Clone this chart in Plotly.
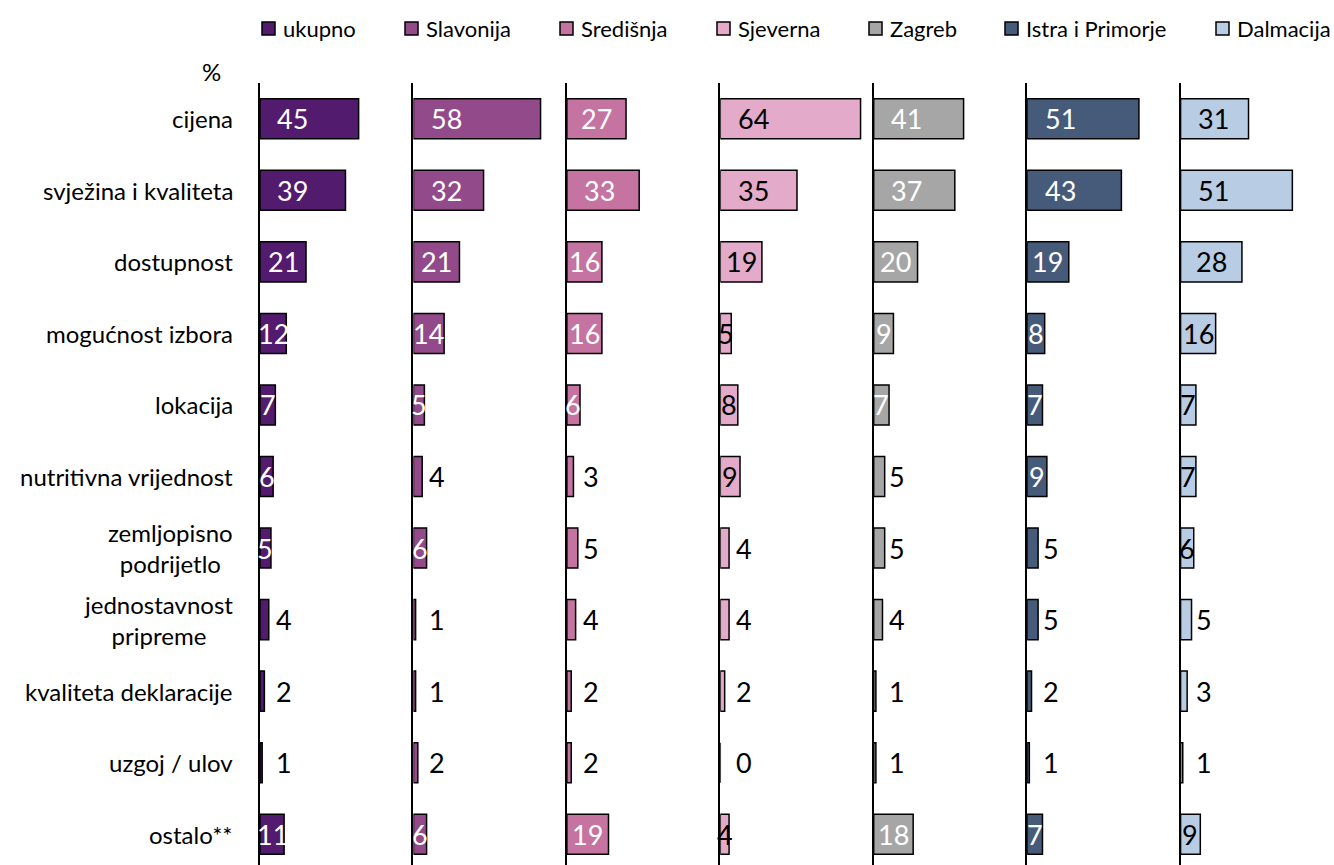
import plotly.graph_objects as go

# ---- data -------------------------------------------------------------
categories = [
    "cijena",
    "svježina i kvaliteta",
    "dostupnost",
    "mogućnost izbora",
    "lokacija",
    "nutritivna vrijednost",
    "zemljopisno<br>podrijetlo",
    "jednostavnost<br>pripreme",
    "kvaliteta deklaracije",
    "uzgoj / ulov",
    "ostalo**",
]

series_names = ["ukupno", "Slavonija", "Središnja", "Sjeverna", "Zagreb",
                "Istra i Primorje", "Dalmacija"]

ukupno = [45, 39, 21, 12, 7, 6, 5, 4, 2, 1, 11]
slavonija = [58, 32, 21, 14, 5, 4, 6, 1, 1, 2, 6]
sredisnja = [27, 33, 16, 16, 6, 3, 5, 4, 2, 2, 19]
sjeverna = [64, 35, 19, 5, 8, 9, 4, 4, 2, 0, 4]
zagreb = [41, 37, 20, 9, 7, 5, 5, 4, 1, 1, 18]
istra = [51, 43, 19, 8, 7, 9, 5, 5, 2, 1, 7]
dalmacija = [31, 51, 28, 16, 7, 7, 6, 5, 3, 1, 9]

series_values = [ukupno, slavonija, sredisnja, sjeverna, zagreb, istra, dalmacija]

# ---- styling ----------------------------------------------------------
colors = ["#521B6E", "#924A8B", "#C573A0", "#E4AACA", "#A6A6A6", "#465B7A", "#B8CCE4"]
inside_font_colors = ["white", "white", "white", "black", "white", "white", "black"]
FONT = "Lato, Carlito, Calibri, sans-serif"

# small bars whose label still sits inside the bar (series index, category index)
inside_small = {(0, 6), (1, 4), (3, 3), (3, 10)}

W, H = 1334, 865
PLOT_LEFT, PLOT_RIGHT = 260, 1334
PLOT_TOP = 83
X_MAX = 70                      # every panel shares the same 0..70 % scale
n_panels = len(series_values)
panel_w = (PLOT_RIGHT - PLOT_LEFT) / n_panels
ypos = list(range(len(categories)))

fig = go.Figure()
annotations = []
shapes = []

for i, (name, vals) in enumerate(zip(series_names, series_values)):
    k = "" if i == 0 else str(i + 1)
    fig.add_trace(go.Bar(
        x=vals, y=ypos, orientation="h", name=name,
        width=0.56,
        marker=dict(color=colors[i], line=dict(color="black", width=1.5)),
        xaxis="x" + k, yaxis="y" + k,
        showlegend=False, hoverinfo="x+y",
    ))
    x0 = (PLOT_LEFT + panel_w * i) / W
    x1 = min(1.0, (PLOT_LEFT + panel_w * (i + 1)) / W)
    fig.update_layout(**{
        "xaxis" + k: dict(domain=[x0, x1], range=[0, X_MAX], anchor="y" + k,
                          showgrid=False, zeroline=False, showticklabels=False,
                          ticks="", showline=False, fixedrange=True),
        "yaxis" + k: dict(domain=[0, 1 - PLOT_TOP / H], range=[10.43, -0.5],
                          anchor="x" + k, showgrid=False, zeroline=False,
                          showticklabels=False, ticks="", showline=True,
                          linecolor="black", linewidth=1.5, fixedrange=True),
    })

    # value labels
    for j, v in enumerate(vals):
        inside = v >= 6 or (i, j) in inside_small
        if inside:
            xc = min(v / 2, 15)
            col = inside_font_colors[i]
        else:
            xc = 10.8
            col = "black"
        annotations.append(dict(
            x=xc, y=j, xref="x" + k, yref="y" + k, text=str(v),
            showarrow=False, xanchor="center", yanchor="middle",
            font=dict(family=FONT, size=27, color=col),
        ))

# category labels
for j, cat in enumerate(categories):
    annotations.append(dict(
        x=235 / W, y=j, xref="paper", yref="y", text=cat,
        showarrow=False, xanchor="right", yanchor="middle", align="center",
        font=dict(family=FONT, size=24, color="black"),
    ))

# unit label
annotations.append(dict(
    x=211 / W, y=1 - 72 / H, xref="paper", yref="paper", text="%",
    showarrow=False, xanchor="center", yanchor="middle",
    font=dict(family=FONT, size=24, color="black"),
))

# legend row
legend_x = [262, 405, 560, 717, 869, 1005, 1216]
for i, name in enumerate(series_names):
    lx = legend_x[i]
    shapes.append(dict(
        type="rect", xref="paper", yref="paper",
        x0=lx / W, x1=(lx + 13) / W, y0=1 - 35 / H, y1=1 - 22 / H,
        fillcolor=colors[i], line=dict(color="black", width=1.5),
    ))
    annotations.append(dict(
        x=(lx + 19) / W, y=1 - 28.5 / H, xref="paper", yref="paper", text=name,
        showarrow=False, xanchor="left", yanchor="middle",
        font=dict(family=FONT, size=22, color="black"),
    ))

fig.update_layout(
    width=W, height=H,
    margin=dict(l=0, r=0, t=0, b=0),
    paper_bgcolor="white", plot_bgcolor="white",
    barmode="overlay",
    annotations=annotations, shapes=shapes,
    font=dict(family=FONT),
)

fig.write_html("out.html")
